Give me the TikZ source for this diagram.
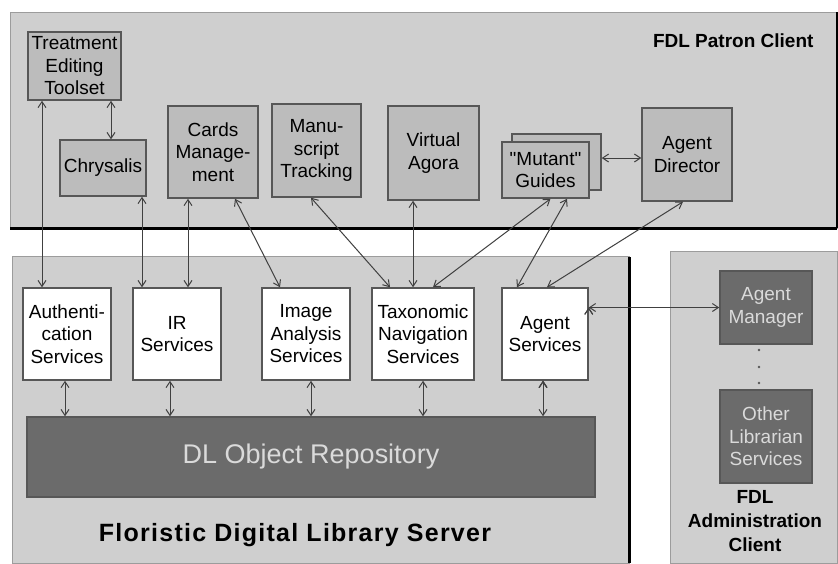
\documentclass[tikz,border=0pt]{standalone}
\usepackage{fontspec}
\setmainfont{Liberation Sans}
\usetikzlibrary{arrows.meta, positioning}
\definecolor{panelgray}{HTML}{CFCFCF}
\definecolor{panelline}{HTML}{9C9C9C}
\definecolor{clientgray}{HTML}{BCBCBC}
\definecolor{boxline}{HTML}{575757}
\definecolor{repogray}{HTML}{6B6B6B}
\definecolor{lighttext}{HTML}{DADADA}
\definecolor{linkgray}{HTML}{404040}
\newcommand{\boxfont}{\fontsize{19}{22.5}\selectfont}
\newcommand{\labelfont}{\fontsize{19}{24}\selectfont\bfseries}

\begin{document}
\begin{tikzpicture}[x=1pt, y=-1pt, >={Straight Barb[length=6pt,width=8pt]},
   panel/.style={draw=panelline, fill=panelgray, line width=1pt},
   client/.style={draw=boxline, fill=clientgray, line width=1.5pt, inner sep=0pt, align=center, font=\boxfont},
   service/.style={client, fill=white},
   admin/.style={client, fill=repogray, text=lighttext, minimum width=92},
   link/.style={<->, draw=linkgray, line width=1pt}]
   \useasboundingbox[fill=white] (0,0) rectangle (838,563);

   % panels
   \draw[panel] (10,12) rectangle (837,228);
   \draw[line width=3pt] (10,228) -- (837,228);
   \draw[line width=2pt] (837,12) -- (837,228);
   \draw[panel] (12,256) rectangle (629,563);
   \draw[line width=3pt] (629,257) -- (629,563);
   \draw[panel] (670,251) rectangle (837,563);

   % patron client
   \node[anchor=east, font=\labelfont] (patron) at (817,41) {FDL Patron Client};
   \node[client, minimum width=93, minimum height=68] (treat) at (74.5,66) {Treatment\\Editing\\Toolset};
   \node[client, minimum width=86, minimum height=56] (chrys) at (103,168) {Chrysalis};
   \node[client, minimum width=90, minimum height=92] (cards) at (213,152) {Cards\\Manage-\\ment};
   \node[client, minimum width=89, minimum height=93] (manu) at (316.5,150.5) {Manu-\\script\\Tracking};
   \node[client, minimum width=91, minimum height=94] (agora) at (433.5,153) {Virtual\\Agora};
   \node[client, minimum width=89, minimum height=56] (mutantb) at (556.5,162) {};
   \node[client, minimum width=87, minimum height=56] (mutant) at (545.5,170) {\textquotedbl Mutant\textquotedbl\\Guides};
   \node[client, minimum width=90, minimum height=93] (director) at (687,154.5) {Agent\\Director};

   % library server
   \node[service, minimum width=88, minimum height=92] (auth) at (67,334) {Authenti-\\cation\\Services};
   \node[service, minimum width=88, minimum height=92] (ir) at (177,334) {IR\\Services};
   \node[service, minimum width=88, minimum height=92] (image) at (306,334) {Image\\Analysis\\Services};
   \node[service, minimum width=102, minimum height=92] (taxo) at (423,334) {Taxonomic\\Navigation\\Services};
   \node[service, minimum width=86, minimum height=92] (agsrv) at (545,334) {Agent\\Services};
   \node[client, fill=repogray, text=lighttext, minimum width=568, minimum height=80,
         font=\fontsize{27}{30}\selectfont] (repo) at (311,457) {DL Object Repository};
   \node[font=\fontsize{25}{28}\selectfont\bfseries\addfontfeatures{LetterSpace=5}] (server) at (295,535) {Floristic Digital Library Server};

   % administration client
   \node[admin, minimum height=73] (agmgr) at (766,307.5) {Agent\\Manager};
   \node[admin, minimum height=93] (other) at (766,436.5) {Other\\Librarian\\Services};
   \foreach \y in {350,367,383} \fill[boxline] (759,\y) circle (1.4);
   \node[align=center, font=\labelfont] (admlabel) at (755,521) {FDL\\Administration\\Client};

   \path[link]
    ([xshift=36.5]treat.south) edge ([xshift=8]chrys.north)
    ([xshift=-32.5]treat.south) edge ([xshift=-25]auth.north)
    ([xshift=39]chrys.south) edge ([xshift=-35]ir.north)
    ([xshift=-25]cards.south) edge ([xshift=11]ir.north)
    ([xshift=22]cards.south) edge ([xshift=-26]image.north)
    ([xshift=-5.5]manu.south) edge ([xshift=-33]taxo.north)
    ([xshift=-20.5]agora.south) edge ([xshift=-10]taxo.north)
    ([xshift=5]mutant.south) edge ([xshift=10]taxo.north)
    ([xshift=21.5]mutant.south) edge ([xshift=-28]agsrv.north)
    ([xshift=-4]director.south) edge ([xshift=2]agsrv.north)
    ([yshift=4]mutantb.east) edge ([yshift=-3.5]director.west)
    (agsrv.east |- agmgr) edge (agmgr);

   \path[link]
    ([xshift=-2]auth.south) edge ([xshift=-2]auth.south |- repo.north)
    ([xshift=-7]ir.south) edge ([xshift=-7]ir.south |- repo.north)
    ([xshift=5]image.south) edge ([xshift=5]image.south |- repo.north)
    (taxo.south) edge (taxo.south |- repo.north)
    ([xshift=-2]agsrv.south) edge ([xshift=-2]agsrv.south |- repo.north);
\end{tikzpicture}
\end{document}
